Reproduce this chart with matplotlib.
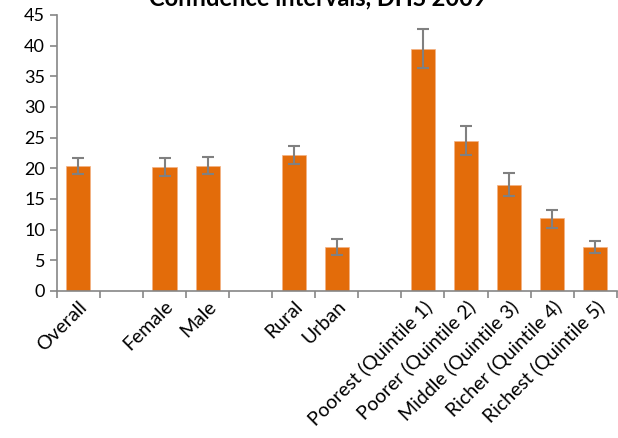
import numpy as np
import matplotlib.pyplot as plt

plt.rcParams['font.family'] = ['Lato', 'DejaVu Sans']

# blank categories are the gaps between groups
categories = ["Overall", "", "Female", "Male", "", "Rural", "Urban", "",
              "Poorest (Quintile 1)", "Poorer (Quintile 2)", "Middle (Quintile 3)",
              "Richer (Quintile 4)", "Richest (Quintile 5)"]
values = [20.3, np.nan, 20.2, 20.4, np.nan, 22.1, 7.2, np.nan,
          39.5, 24.5, 17.3, 11.8, 7.2]
ci_low = [19.0, np.nan, 18.8, 19.0, np.nan, 20.7, 5.9, np.nan,
          36.4, 22.1, 15.4, 10.3, 6.1]
ci_high = [21.7, np.nan, 21.7, 21.9, np.nan, 23.7, 8.4, np.nan,
           42.7, 26.9, 19.2, 13.2, 8.2]

vals = np.array(values)
err = np.array([vals - np.array(ci_low), np.array(ci_high) - vals])
x = np.arange(len(categories))

fig = plt.figure(figsize=(6.18, 4.38), dpi=100)
ax = fig.add_axes([0.092, 0.336, 0.906, 0.630])

ax.bar(x, vals, width=0.56, color="#E36C0A", edgecolor="#F4B183", linewidth=0.5)
ax.errorbar(x, vals, yerr=err, fmt="none", ecolor="#808080", elinewidth=1.5,
            capsize=4.5, capthick=1.5)

ax.set_xlim(-0.5, len(categories) - 0.5)
ax.set_ylim(0, 45)
ax.set_yticks(range(0, 46, 5))
ax.tick_params(axis="y", labelsize=13, color="#868686", length=5, width=1.2)

ax.set_xticks(np.arange(-0.5, len(categories), 1.0))
ax.set_xticklabels([])
ax.tick_params(axis="x", which="major", color="#868686", length=5, width=1.2)
ax.set_xticks(x, minor=True)
ax.set_xticklabels(categories, minor=True, rotation=45, ha="right",
                   rotation_mode="anchor", fontsize=14)
ax.tick_params(axis="x", which="minor", length=0, pad=5)

for s in ["top", "right"]:
    ax.spines[s].set_visible(False)
for s in ["left", "bottom"]:
    ax.spines[s].set_color("#868686")
    ax.spines[s].set_linewidth(1.2)

fig.text(0.515, 0.987, "Confidence intervals, DHS 2009", ha="center", va="baseline",
         fontsize=17, fontweight="bold")

fig.savefig("out.png", dpi=100)
